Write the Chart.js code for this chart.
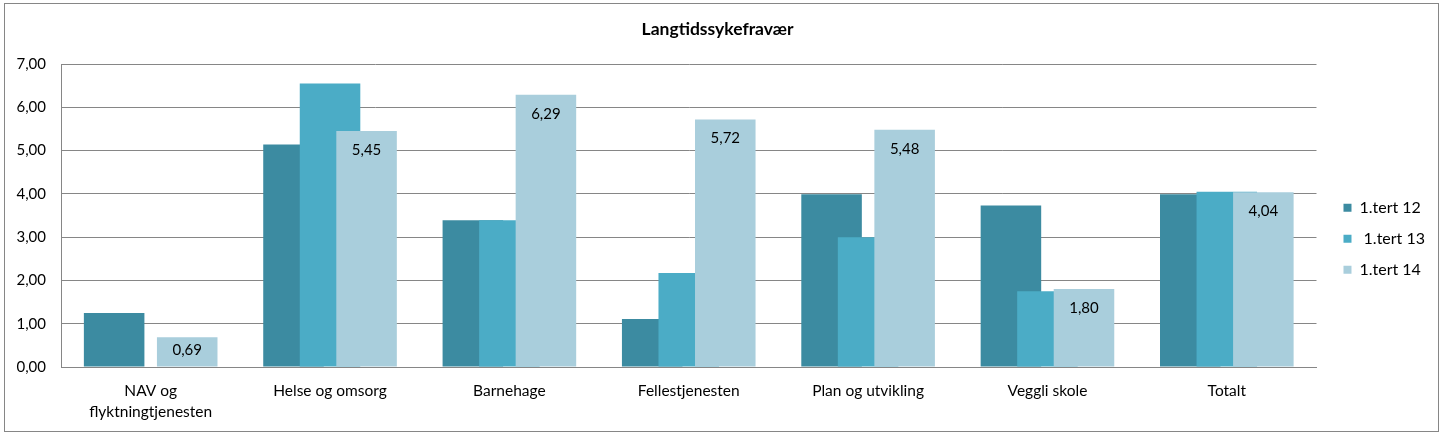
<!DOCTYPE html>
<html><head><meta charset="utf-8">
<script src="https://cdn.jsdelivr.net/npm/chart.js@4.4.1/dist/chart.umd.min.js"></script>
<style>html,body{margin:0;padding:0;background:#fff}#wrap{width:1447px;height:437px;position:relative}</style>
</head><body><div id="wrap"><canvas id="c" width="1447" height="437"></canvas></div>
<script>
const chartTitle = "Langtidssykefravær";
const categories = [["NAV og", "flyktningtjenesten"], "Helse og omsorg", "Barnehage", "Fellestjenesten", "Plan og utvikling", "Veggli skole", "Totalt"];
const seriesNames = ["1.tert 12", " 1.tert 13", "1.tert 14"];
const tert12 = [1.25, 5.14, 3.39, 1.11, 3.99, 3.73, 3.99];
const tert13 = [null, 6.55, 3.39, 2.17, 3.00, 1.75, 4.05];
const tert14 = [0.69, 5.45, 6.29, 5.72, 5.48, 1.80, 4.04];
const yTicks = [0, 1, 2, 3, 4, 5, 6, 7];

const seriesValues = [tert12, tert13, tert14];
const colors = ["#3C8BA1", "#4BACC6", "#A9CEDC"];
const groupStep = 0.2037;      // horizontal step between overlapping bars (category units)
const barWidthRatio = 1.657;   // bar width relative to step (bars overlap)
const FONT = "Lato";
const fmt = v => v.toFixed(2).replace('.', ',');

const framePlugin = {
  id: 'frame',
  beforeDraw(chart) {
    const ctx = chart.ctx;
    ctx.save();
    ctx.fillStyle = '#fff';
    ctx.fillRect(0, 0, chart.width, chart.height);
    ctx.strokeStyle = '#868686';
    ctx.lineWidth = 1;
    ctx.strokeRect(4.5, 3.5, 1434, 428);
    ctx.restore();
  }
};

const valueLabels = {
  id: 'valueLabels',
  afterDatasetsDraw(chart) {
    const ctx = chart.ctx;
    const meta = chart.getDatasetMeta(2);
    const base = chart.scales.y.getPixelForValue(0);
    ctx.save();
    ctx.font = '15px ' + FONT;
    ctx.fillStyle = '#000';
    ctx.textAlign = 'center';
    ctx.textBaseline = 'middle';
    meta.data.forEach((bar, i) => {
      const v = tert14[i];
      if (v == null) return;
      const y = Math.min(bar.y + 19, (bar.y + base) / 2 - 2);
      ctx.fillText(fmt(v), bar.x, y);
    });
    ctx.restore();
  }
};

new Chart(document.getElementById('c'), {
  type: 'bar',
  data: {
    datasets: seriesValues.map((vals, k) => ({
      label: seriesNames[k],
      data: vals.map((v, i) => ({ x: i + (k - 1) * groupStep, y: v })),
      backgroundColor: colors[k],
      borderWidth: 0,
      order: 2 - k,
      grouped: false,
      categoryPercentage: 1,
      barPercentage: barWidthRatio
    }))
  },
  options: {
    responsive: false,
    animation: false,
    layout: { padding: { left: 0, right: 12, top: 0, bottom: 0 } },
    plugins: {
      title: {
        display: true, text: chartTitle, color: '#000',
        font: { family: FONT, size: 17.5, weight: 'bold', lineHeight: 1.2 },
        padding: { top: 19, bottom: 24 }
      },
      legend: {
        position: 'right', align: 'center',
        title: { display: true, text: '', padding: { top: 26, bottom: 0 }, font: { size: 12, lineHeight: 1.2 } },
        labels: {
          boxWidth: 8, boxHeight: 8, padding: 15, color: '#000',
          font: { family: FONT, size: 16 },
          sort: (a, b) => a.datasetIndex - b.datasetIndex
        }
      },
      tooltip: { enabled: false }
    },
    scales: {
      x: {
        type: 'linear', min: -0.5, max: 6.5, offset: false,
        afterBuildTicks: s => { s.ticks = categories.map((_, i) => ({ value: i })); },
        ticks: {
          autoSkip: false, maxRotation: 0, padding: 13.5, color: '#000',
          font: { family: FONT, size: 15.5, lineHeight: 1.35 },
          callback: v => categories[v]
        },
        grid: { display: false, drawTicks: false },
        border: { display: true, color: '#868686' },
        afterFit: s => { s.height = 70; }
      },
      y: {
        min: 0, max: 7,
        afterBuildTicks: s => { s.ticks = yTicks.map(v => ({ value: v })); },
        ticks: { padding: 15, color: '#000', font: { family: FONT, size: 15 }, callback: v => fmt(v) },
        grid: { color: '#868686', drawTicks: false },
        border: { display: true, color: '#868686' },
        afterFit: s => { s.width = 61; }
      },
      spacer: {
        position: 'right', display: true,
        grid: { display: false, drawTicks: false },
        border: { display: false },
        ticks: { display: false },
        afterFit: s => { s.width = 12; }
      }
    }
  },
  plugins: [framePlugin, valueLabels]
});
</script>
</body></html>
